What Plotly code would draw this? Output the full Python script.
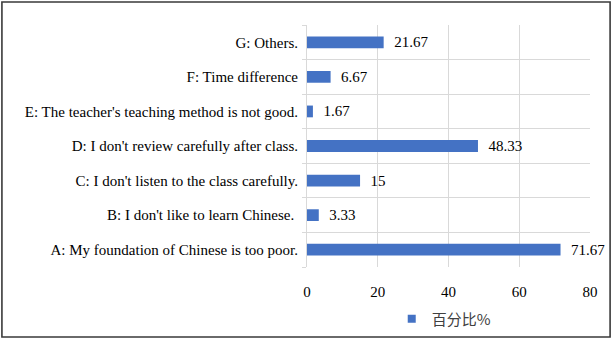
import plotly.graph_objects as go

categories = [
    "A: My foundation of Chinese is too poor.",
    "B: I don't like to learn Chinese. ",
    "C: I don't listen to the class carefully.",
    "D: I don't review carefully after class.",
    "E: The teacher's teaching method is not good.",
    "F: Time difference",
    "G: Others.",
]
values = [71.67, 3.33, 15, 48.33, 1.67, 6.67, 21.67]
value_labels = ["71.67", "3.33", "15", "48.33", "1.67", "6.67", "21.67"]
series_name = "百分比%"
x_ticks = [0, 20, 40, 60, 80]

serif = "'Liberation Serif', 'Times New Roman', 'DejaVu Serif', serif"
grid = "#D9D9D9"
bar_color = "#4472C4"

fig = go.Figure()
fig.add_trace(go.Bar(
    y=categories, x=values, orientation="h", name=series_name,
    marker=dict(color=bar_color, line=dict(width=0)),
    text=value_labels, texttemplate="\u2002%{text}",
    textposition="outside", cliponaxis=False,
    constraintext="none",
    textfont=dict(family=serif, size=15, color="#000000"),
    showlegend=False,
))
# legend entry for the series (small square key)
fig.add_trace(go.Scatter(
    x=[None], y=[None], mode="markers", name=series_name,
    marker=dict(symbol="square", size=8, color=bar_color),
    showlegend=True, hoverinfo="skip",
))

fig.update_layout(
    width=614, height=343,
    margin=dict(l=307, r=24, t=25, b=76, autoexpand=False),
    paper_bgcolor="white", plot_bgcolor="white",
    bargap=0.66,
    font=dict(family=serif, size=15, color="#000000"),
    xaxis=dict(range=[0, 80], tickvals=x_ticks, showgrid=True, gridcolor=grid,
               gridwidth=1, zeroline=False, showline=False, ticks="",
               ticklabelstandoff=14,
               tickfont=dict(family=serif, size=15, color="#000000"), fixedrange=True),
    yaxis=dict(type="category", categoryorder="array", categoryarray=categories,
               tickson="boundaries", showgrid=True, gridcolor=grid, gridwidth=1,
               ticks="outside", ticklen=4, tickcolor=grid, ticklabelstandoff=5,
               showline=True, linecolor=grid, automargin=False,
               tickfont=dict(family=serif, size=15, color="#000000")),
    legend=dict(orientation="h", xref="container", yref="container",
                x=0.638, xanchor="left", y=0.07, yanchor="middle",
                font=dict(family="Noto Sans CJK SC", size=15, color="#404040"),
                itemwidth=30),
    showlegend=True,
    shapes=[dict(type="rect", xref="paper", yref="paper",
                 x0=-1.078, x1=1.071, y0=-0.289, y1=1.095,
                 line=dict(color="#3A3A3A", width=1.6), fillcolor="rgba(0,0,0,0)", layer="above")],
)

fig.write_html("out.html", config={"displayModeBar": False},
               post_script="document.body.style.margin='0';document.body.style.padding='0';")
